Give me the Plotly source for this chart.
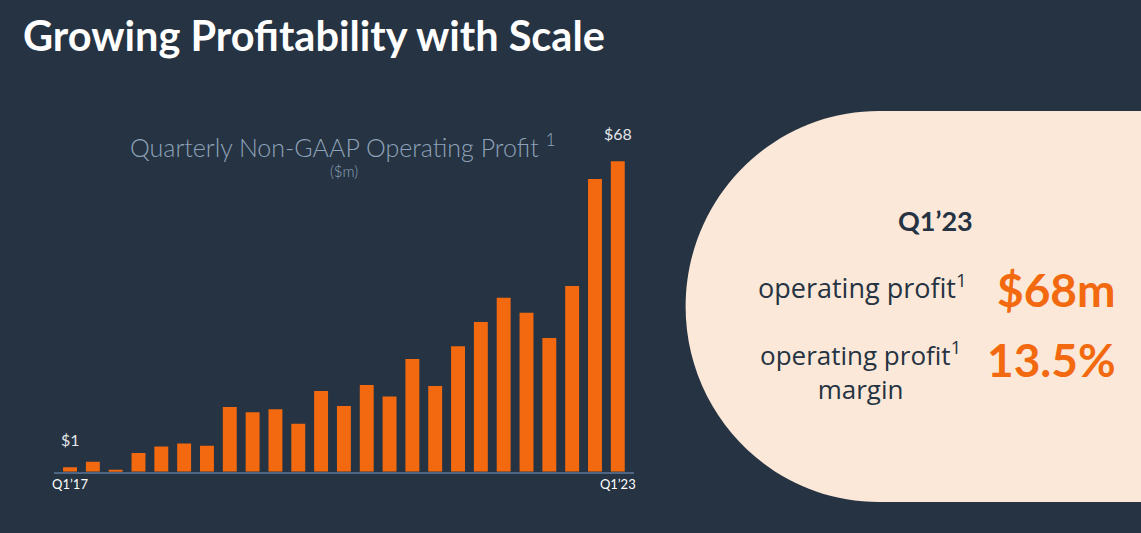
import plotly.graph_objects as go

# ---- data ----
quarters = ["Q1'17", "Q2'17", "Q3'17", "Q4'17",
            "Q1'18", "Q2'18", "Q3'18", "Q4'18",
            "Q1'19", "Q2'19", "Q3'19", "Q4'19",
            "Q1'20", "Q2'20", "Q3'20", "Q4'20",
            "Q1'21", "Q2'21", "Q3'21", "Q4'21",
            "Q1'22", "Q2'22", "Q3'22", "Q4'22",
            "Q1'23"]
profit = [1.0, 2.2, 0.4, 4.1, 5.5, 6.2, 5.7, 14.2, 13.0, 13.7, 10.5, 17.7,
          14.4, 19.0, 16.5, 24.7, 18.8, 27.5, 32.8, 38.1, 34.8, 29.3, 40.7,
          64.1, 68.0]
tick_vals = ["Q1'17", "Q1'23"]
tick_text = ["Q1’17", "Q1’23"]
end_labels = ["$1", "$68"]

W, H = 1141, 533
BG = "#253342"
ORANGE = "#F2690F"
CREAM = "#FBE8D8"
NAVY = "#253342"
SUB = "#8EA2B9"


def px(x):
    return x / W


def py(y):
    return 1 - y / H


fig = go.Figure()
fig.add_trace(go.Bar(
    x=quarters, y=profit, marker=dict(color=ORANGE, line=dict(width=0)),
    width=0.61, hoverinfo="x+y", showlegend=False,
))

# cream panel with rounded left side
k = 0.5523
cx, cy, rx, ry = 880, 306.5, 194, 195.5
top, bot = cy - ry, cy + ry
pts = [
    ("M", [(W + 5, top)]),
    ("L", [(cx, top)]),
    ("C", [(cx - k * rx, top), (cx - rx, cy - k * ry), (cx - rx, cy)]),
    ("C", [(cx - rx, cy + k * ry), (cx - k * rx, bot), (cx, bot)]),
    ("L", [(W + 5, bot)]),
]
path = ""
for cmd, ps in pts:
    path += cmd + " " + " ".join(f"{px(a):.5f},{py(b):.5f}" for a, b in ps) + " "
path += "Z"
fig.add_shape(type="path", path=path, xref="paper", yref="paper",
              fillcolor=CREAM, line=dict(width=0), layer="below")

# end value labels
for q, v, t in [(quarters[0], profit[0], end_labels[0]),
                (quarters[-1], profit[-1], end_labels[1])]:
    fig.add_annotation(x=q, y=v, xref="x", yref="y", text=t, showarrow=False,
                       yanchor="middle", yshift=28,
                       font=dict(family="Lato", size=16, color="#E3E6EA"))

ann = []
ann.append(dict(x=px(19), y=py(35), xanchor="left", yanchor="middle",
                text="<b>Growing Profitability with Scale</b>",
                font=dict(family="Lato", size=41.5, color="#FFFFFF")))
ann.append(dict(x=px(342), y=py(145), xanchor="center", yanchor="middle",
                text="Quarterly Non-GAAP Operating Profit <sup>1</sup>",
                font=dict(family="Lato", size=25, color=SUB, weight=300)))
ann.append(dict(x=px(343), y=py(171), xanchor="center", yanchor="middle",
                text="($m)",
                font=dict(family="Lato", size=15, color=SUB, weight=300)))
ann.append(dict(x=px(937), y=py(221), xanchor="center", yanchor="middle",
                text="<b>Q1’23</b>",
                font=dict(family="Lato", size=27, color=NAVY, weight=900)))
ann.append(dict(x=px(970), y=py(286), xanchor="right", yanchor="middle",
                text="operating profit<sup>1</sup>",
                font=dict(family="Open Sans", size=27, color=NAVY)))
ann.append(dict(x=px(1120), y=py(289), xanchor="right", yanchor="middle",
                text="<b>$68m</b>",
                font=dict(family="Lato", size=46, color=ORANGE, weight=900)))
ann.append(dict(x=px(862), y=py(371), xanchor="center", yanchor="middle",
                align="center",
                text="operating profit<sup>1</sup><br>margin",
                font=dict(family="Open Sans", size=26, color=NAVY)))
ann.append(dict(x=px(1120), y=py(359), xanchor="right", yanchor="middle",
                text="<b>13.5%</b>",
                font=dict(family="Lato", size=46, color=ORANGE, weight=900)))
for a in ann:
    fig.add_annotation(xref="paper", yref="paper", showarrow=False, **a)

y_top_px = 130
y_base_px = 471.7
scale = (y_base_px - 161.3) / profit[-1]
fig.update_layout(
    width=W, height=H, margin=dict(l=0, r=0, t=0, b=0),
    paper_bgcolor=BG, plot_bgcolor=BG,
    bargap=0.39,
    xaxis=dict(domain=[px(52), px(634)], range=[-0.71, len(quarters) - 0.3],
               tickvals=tick_vals, ticktext=tick_text, showgrid=False,
               showline=True, linecolor="#4E6584", linewidth=2, ticks="",
               tickfont=dict(family="Lato", size=13, color="#FFFFFF"),
               zeroline=False, fixedrange=True),
    yaxis=dict(domain=[py(y_base_px), py(y_top_px)],
               range=[0, (y_base_px - y_top_px) / scale],
               visible=False, showgrid=False, zeroline=False, fixedrange=True),
    font=dict(family="Lato"),
)

fig.write_html(
    "out.html",
    config={"displayModeBar": False},
    post_script="document.body.style.margin='0';document.body.style.overflow='hidden';",
)
